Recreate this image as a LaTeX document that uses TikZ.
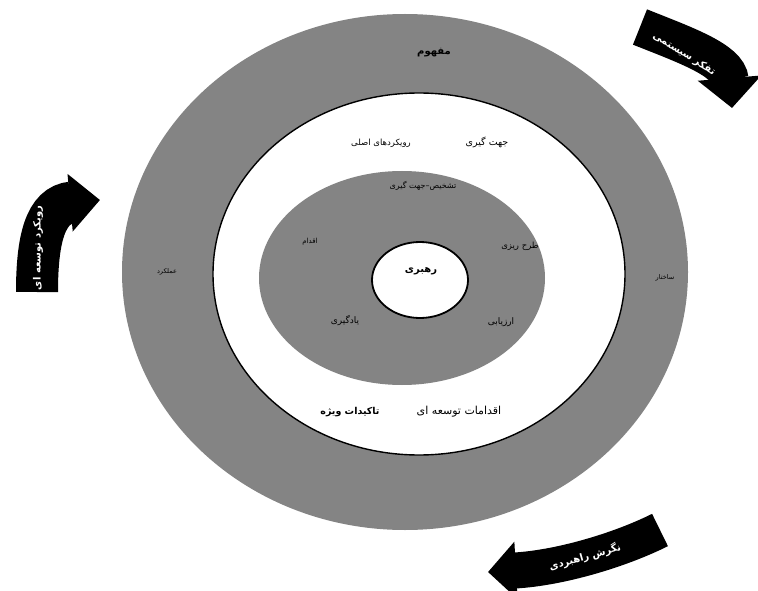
\documentclass[tikz,border=0pt]{standalone}
\usepackage{fontspec}
\usepackage{tikz}
\usetikzlibrary{arrows.meta}
\newfontfamily\arabicfont[Script=Arabic]{DejaVu Sans}
\TeXXeTstate=1
\definecolor{ringgray}{RGB}{132,132,132}

\begin{document}
\begin{tikzpicture}[x=1pt,y=-1pt,
		lbl/.style={inner sep=1pt, font=\arabicfont\fontsize{#1}{#1}\selectfont},
		blbl/.style={inner sep=1pt, font=\arabicfont\bfseries\fontsize{#1}{#1}\selectfont},
		wlbl/.style={inner sep=1pt, text=white, font=\arabicfont\bfseries\fontsize{#1}{#1}\selectfont},
		bandarrow/.style={draw=black, line width=#1, line cap=butt}]
	\useasboundingbox (0,0) rectangle (758,591);
	% Rings
	\fill[ringgray] (405,272) ellipse [x radius=283pt, y radius=258pt];
	\filldraw[fill=white, draw=black, line width=1.4pt] (419,274) ellipse [x radius=206pt, y radius=181pt];
	\fill[ringgray] (402,278) ellipse [x radius=143pt, y radius=107pt];
	\filldraw[fill=white, draw=black, line width=1.8pt] (420,280) ellipse [x radius=48pt, y radius=38pt];
	% Outer ring labels
	\node[blbl=10] (mafhoom) at (434,53) {\beginR مفهوم\endR};
	\node[lbl=6.5] (amalkard) at (167,272) {\beginR عملکرد\endR};
	\node[lbl=6.5] (sakhtar) at (665,278) {\beginR ساختار\endR};
	% White ring labels
	\node[lbl=9.5] (jahat) at (487,142) {\beginR جهت گیری\endR};
	\node[lbl=8.5] (rooykard) at (381,143) {\beginR رویکردهای اصلی\endR};
	\node[lbl=11] (eghdamat) at (459,412) {\beginR اقدامات توسعه ای\endR};
	\node[blbl=9.5] (takid) at (350,412) {\beginR تاکیدات ویژه\endR};
	% Inner ring labels
	\node[lbl=8] (tashkhis) at (423,186) {\beginR تشخیص–جهت گیری\endR};
	\node[lbl=7] (eghdam) at (310,242) {\beginR اقدام\endR};
	\node[lbl=8.5] (tarh) at (520,246) {\beginR طرح ریزی\endR};
	\node[lbl=9] (yadgiri) at (345,321) {\beginR یادگیری\endR};
	\node[lbl=9] (arzyabi) at (501,322) {\beginR ارزیابی\endR};
	\node[blbl=10] (rahbari) at (421,271) {\beginR رهبری\endR};
	% Curved arrows
	\coordinate (sysA) at (640,27);
	\coordinate (sysB) at (732,108);
	\draw[bandarrow=38pt, -{Triangle[width=62pt,length=30pt]}] (sysA) .. controls (685,45) and (728,60) .. (sysB);
	\node[wlbl=10, rotate=-32] (systemic) at (684,54) {\beginR تفکر سیستمی\endR};
	\coordinate (devA) at (37,292);
	\coordinate (devB) at (100,200);
	\draw[bandarrow=42pt, -{Triangle[width=56pt,length=30pt]}] (devA) .. controls (37,240) and (45,205) .. (devB);
	\node[wlbl=10, rotate=90] (developing) at (38,248) {\beginR رویکرد توسعه ای\endR};
	\coordinate (stratA) at (660,530);
	\coordinate (stratB) at (488,572);
	\draw[bandarrow=36pt, -{Triangle[width=56pt,length=28pt]}] (stratA) .. controls (620,550) and (560,568) .. (stratB);
	\node[wlbl=10, rotate=16] (strategic) at (585,557) {\beginR نگرش راهبردی\endR};
\end{tikzpicture}
\end{document}
